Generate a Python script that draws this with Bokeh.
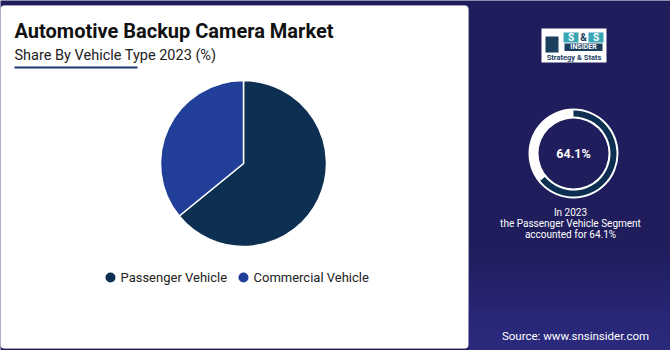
import numpy as np
from bokeh.plotting import figure
from bokeh.models import ColumnDataSource, BoxAnnotation, Range1d
from bokeh.core.properties import value
from bokeh.embed import file_html
from bokeh.resources import INLINE

# ---- data ----
segments = ["Passenger Vehicle", "Commercial Vehicle"]
shares = [64.1, 35.9]
highlight_share = 64.1
title_text = "Automotive Backup Camera Market"
subtitle_text = "Share By Vehicle Type 2023 (%)"
note_lines = ["In 2023", "the Passenger Vehicle Segment", "accounted for 64.1%"]
source_text = "Source: www.snsinsider.com"

# ---- styles ----
seg_colors = ["#0c2f52", "#213f98"]
NAVY = "#1f1d5c"
W, H = 670, 350
FONT = "Roboto"

def Y(py):
    return H - py

p = figure(width=W, height=H, output_backend="svg", toolbar_location=None,
           x_range=Range1d(0, W), y_range=Range1d(0, H), min_border=0)
p.axis.visible = False
p.grid.visible = False
p.outline_line_color = None
p.background_fill_color = NAVY
p.border_fill_color = NAVY

# subtle lighter band at bottom right
for i in range(12):
    p.quad(left=468, right=W, bottom=0, top=Y(250 + i * 8), fill_color="#4a5fc0",
           fill_alpha=0.035, line_color=None)

# white panel
p.add_layout(BoxAnnotation(left=0, right=468, bottom=Y(348), top=Y(5),
                           fill_color="white", fill_alpha=1, line_color="#d0d0d0",
                           line_width=1, border_radius=4, level="underlay"))

# titles
p.text(x=[14], y=[Y(30)], text=[title_text], text_font=value(FONT), text_font_style="bold",
       text_font_size="20px", text_color="#111111", text_baseline="middle")
p.text(x=[14], y=[Y(55)], text=[subtitle_text], text_font=value(FONT),
       text_font_size="14.5px", text_color="#222222", text_baseline="middle")
p.segment(x0=[14], y0=[Y(67)], x1=[137], y1=[Y(67)], line_color="#1b3a6b", line_width=2)

# pie
frac = np.array(shares) / np.sum(shares)
cum = np.concatenate([[0], np.cumsum(frac)])
start = np.pi / 2 - 2 * np.pi * cum[:-1]
end = np.pi / 2 - 2 * np.pi * cum[1:]
src = ColumnDataSource(dict(seg=segments, share=shares, start=start, end=end, color=seg_colors))
p.wedge(x=243, y=Y(163), radius=83, start_angle="start", end_angle="end", direction="clock",
        fill_color="color", line_color="white", line_width=1.5, source=src)

# legend
leg_x = [110, 243]
src_leg = ColumnDataSource(dict(x=leg_x, tx=[x + 10 for x in leg_x], seg=segments, color=seg_colors))
p.scatter(x="x", y=Y(277), size=10, fill_color="color", line_color=None, source=src_leg)
p.text(x="tx", y=Y(277), text="seg", text_font=value(FONT), text_font_size="13px",
       text_color="#222222", text_baseline="middle", source=src_leg)

# donut highlight
cx, cy = 573, Y(153)
p.annulus(x=cx, y=cy, inner_radius=35, outer_radius=45, fill_color="white", line_color=None)
hf = highlight_share / 100.0
p.annular_wedge(x=cx, y=cy, inner_radius=37, outer_radius=43, start_angle=np.pi / 2,
                end_angle=np.pi / 2 - 2 * np.pi * hf, direction="clock",
                fill_color="#0c2f52", line_color=None)
p.text(x=[cx], y=[cy], text=[f"{highlight_share}%"], text_font=value(FONT), text_font_style="bold",
       text_font_size="12.5px", text_color="white", text_align="center", text_baseline="middle")
p.text(x=[570, 570, 570], y=[Y(212), Y(223), Y(234)], text=note_lines, text_font=value(FONT),
       text_font_size="10px", text_color="white", text_align="center", text_baseline="middle")

p.text(x=[575], y=[Y(335)], text=[source_text], text_font=value(FONT), text_font_size="11.5px",
       text_color="white", text_align="center", text_baseline="middle")

# logo
p.quad(left=541, right=606, bottom=Y(62), top=Y(28), fill_color="white", line_color=None)
p.quad(left=545, right=558, bottom=Y(52), top=Y(36), fill_color="#1d3f5f", line_color=None)
p.quad(left=563, right=578, bottom=Y(42), top=Y(32), fill_color="#3aa6b5", line_color=None)
p.quad(left=588, right=603, bottom=Y(42), top=Y(32), fill_color="#3aa6b5", line_color=None)
p.text(x=[570.5, 583, 595.5], y=[Y(37)] * 3, text=["S", "&", "S"], text_font=value(FONT),
       text_font_style="bold", text_font_size="10px", text_color=["white", "#1d3f5f", "white"],
       text_align="center", text_baseline="middle")
p.quad(left=564, right=602, bottom=Y(50.5), top=Y(43), fill_color="#1d3f5f", line_color=None)
p.text(x=[583], y=[Y(46.8)], text=["INSIDER"], text_font=value(FONT), text_font_style="bold",
       text_font_size="7px", text_color="white", text_align="center", text_baseline="middle")
p.text(x=[573.5], y=[Y(57)], text=["Strategy & Stats"], text_font=value(FONT), text_font_style="bold",
       text_font_size="7.5px", text_color="#1d3f5f", text_align="center", text_baseline="middle")

open("out.html", "w").write(file_html(p, INLINE))
